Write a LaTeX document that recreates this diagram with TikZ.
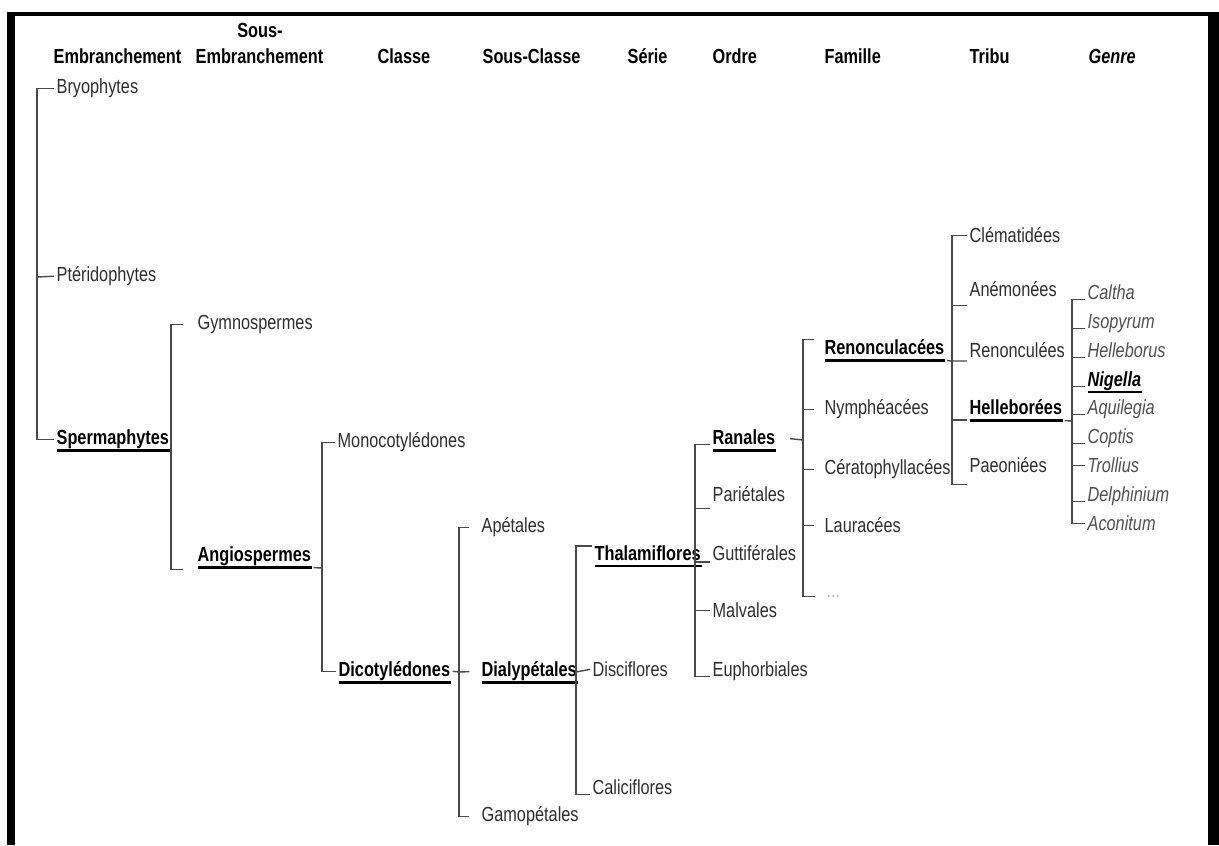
\documentclass[tikz,border=0pt]{standalone}
\usepackage{fontspec}
\setmainfont{Liberation Sans}[FakeStretch=0.8]
\definecolor{txt}{HTML}{2E2E2E}
\definecolor{lnk}{HTML}{4A4A4A}
\definecolor{gen}{HTML}{505050}
\newcommand{\sz}{\fontsize{11.6}{13}\selectfont}

\begin{document}
\begin{tikzpicture}[x=0.02cm, y=-0.02cm,
    taxon/.style={anchor=mid west, inner xsep=1.5pt, inner ysep=0pt, outer sep=0pt, text=txt, font=\sz},
    key taxon/.style={taxon, text=black, font=\sz\bfseries},
    head/.style={key taxon},
    genus/.style={taxon, text=gen, font=\sz\itshape},
    link/.style={draw=lnk, line width=0.8pt},
    ul/.style={draw=black, line width=1.3pt, shorten <=1.5pt, shorten >=1pt}]

    \useasboundingbox (0,0) rectangle (1219,845);
    \fill[black] (7,12) rectangle (15,845);
    \fill[black] (7,12) rectangle (1219,16);
    \fill[black] (1208,12) rectangle (1219,845);

    \node[head] at (51,59) (hemb) {Embranchement};
    \node[head, anchor=mid] at (260,33) (hsous) {Sous-};
    \node[head] at (193,59) (hsemb) {Embranchement};
    \node[head] at (375,59) (hcla) {Classe};
    \node[head] at (480,59) (hscl) {Sous-Classe};
    \node[head] at (625,59) (hser) {Série};
    \node[head] at (710,59) (hord) {Ordre};
    \node[head] at (822,59) (hfam) {Famille};
    \node[head] at (967,59) (htri) {Tribu};
    \node[head] at (1086,59) (hgen) {\textit{Genre}};

    \node[taxon] at (54,89) (bry) {Bryophytes};
    \node[taxon] at (54,277) (pter) {Ptéridophytes};
    \node[key taxon] at (54,440) (sperm) {Spermaphytes};

    \node[taxon] at (195,325) (gym) {Gymnospermes};
    \node[key taxon] at (195,557) (angio) {Angiospermes};

    \node[taxon] at (335,443) (mono) {Monocotylédones};
    \node[key taxon] at (336,672) (dicot) {Dicotylédones};

    \node[taxon] at (479,528) (apet) {Apétales};
    \node[key taxon] at (479,672) (dialy) {Dialypétales};
    \node[taxon] at (479,817) (gamo) {Gamopétales};

    \node[key taxon] at (592,556) (thal) {Thalamiflores};
    \node[taxon] at (590,672) (disc) {Disciflores};
    \node[taxon] at (590,790) (cali) {Caliciflores};

    \node[key taxon] at (710,440) (ran) {Ranales};
    \node[taxon] at (710,497) (pari) {Pariétales};
    \node[taxon] at (710,556) (gutt) {Guttiférales};
    \node[taxon] at (710,613) (malv) {Malvales};
    \node[taxon] at (710,672) (euph) {Euphorbiales};

    \node[key taxon] at (822,350) (renc) {Renonculacées};
    \node[taxon] at (822,410) (nymph) {Nymphéacées};
    \node[taxon] at (822,470) (cera) {Cératophyllacées};
    \node[taxon] at (822,528) (laur) {Lauracées};
    \node[taxon, text=gray!55] at (824,593) (more) {...};

    \node[taxon] at (967,238) (clem) {Clématidées};
    \node[taxon] at (967,292) (anem) {Anémonées};
    \node[taxon] at (967,353) (renu) {Renonculées};
    \node[key taxon] at (967,410) (hell) {Helleborées};
    \node[taxon] at (967,468) (paeo) {Paeoniées};

    \node[genus] at (1085,295) (calt) {Caltha};
    \node[genus] at (1085,324) (isop) {Isopyrum};
    \node[genus] at (1085,353) (hlbs) {Helleborus};
    \node[genus, text=black, font=\sz\bfseries\itshape] at (1085,382) (nig) {Nigella};
    \node[genus] at (1085,410) (aqui) {Aquilegia};
    \node[genus] at (1085,439) (copt) {Coptis};
    \node[genus] at (1085,468) (troll) {Trollius};
    \node[genus] at (1085,497) (delph) {Delphinium};
    \node[genus] at (1085,526) (acon) {Aconitum};

    \draw[ul] ([yshift=-3.4pt]sperm.base west) -- ([yshift=-3.4pt]sperm.base east);
    \draw[ul] ([yshift=-3.4pt]angio.base west) -- ([yshift=-3.4pt]angio.base east);
    \draw[ul] ([yshift=-3.4pt]dicot.base west) -- ([yshift=-3.4pt]dicot.base east);
    \draw[ul] ([yshift=-3.4pt]dialy.base west) -- ([yshift=-3.4pt]dialy.base east);
    \draw[ul] ([yshift=-3pt]thal.base west) -- ([yshift=-3pt]thal.base east);
    \draw[ul] ([yshift=-3.4pt]ran.base west) -- ([yshift=-3.4pt]ran.base east);
    \draw[ul] ([yshift=-3.4pt]renc.base west) -- ([yshift=-3.4pt]renc.base east);
    \draw[ul] ([yshift=-3.4pt]hell.base west) -- ([yshift=-3.4pt]hell.base east);
    \draw[ul] ([yshift=-3pt]nig.base west) -- ([yshift=-3pt]nig.base east);

    \coordinate (eb) at (37,277);
    \coordinate (sb) at (171,451);
    \coordinate (ab) at (322,568);
    \coordinate (cb) at (459,672);
    \coordinate (srb) at (576,672);
    \coordinate (ob) at (695,562);
    \coordinate (fb) at (803,440);
    \coordinate (tb) at (952,361);
    \coordinate (gb) at (1072,421);

    \draw[link] (bry.west) -| (eb) |- (sperm.west);
    \draw[link] (pter.west) -- (eb);

    \draw[link, shorten <=7pt, shorten >=7pt] (gym.west) -| (sb) |- ([yshift=-4.5pt]angio.base west);
    \draw[link] ([yshift=-3.4pt]sperm.base east) -- (sb);

    \draw[link] (mono.west) -| (ab) |- (dicot.west);
    \draw[link] ([yshift=-3.4pt]angio.base east) -- (ab);

    \draw[link, shorten <=5.5pt, shorten >=5.5pt] (apet.west) -| (cb) |- (gamo.west);
    \draw[link, shorten >=5.5pt] (dicot.east) -- (cb) -- (dialy.west);

    \draw[link] (thal.north west) -| (srb) |- (cali.base west);
    \draw[link] (dialy.east) -- (srb) -- (disc.west);

    \draw[link] (ran.base west) -| (ob) |- (euph.base west);
    \draw[link] ([yshift=-4pt]pari.base west) -- ([yshift=-4pt]pari.base west -| ob);
    \draw[link] (ob) -- (ob -| gutt.west);
    \draw[link] (malv.west) -- (malv.west -| ob);

    \draw[link, shorten <=4.5pt, shorten >=5pt] (renc.north west) -| (fb) |- (more.west);
    \draw[link, shorten <=7pt] (ran.east) -- (fb);
    \draw[link, shorten <=4.5pt] (nymph.west) -- (nymph.west -| fb);
    \draw[link, shorten <=4.5pt] (cera.west) -- (cera.west -| fb);
    \draw[link, shorten <=4.5pt] (laur.west) -- (laur.west -| fb);

    \draw[link] (clem.west) -| (tb) |- ([yshift=-6.8pt]paeo.base west);
    \draw[link] ([yshift=-3.4pt]renc.base east) -- (tb) -- (tb -| renu.west);
    \draw[link] ([yshift=-5pt]anem.base west) -- ([yshift=-5pt]anem.base west -| tb);
    \draw[link] ([yshift=-3pt]hell.base west) -- ([yshift=-3pt]hell.base west -| tb);

    \draw[link] (calt.base west) -| (gb) |- (acon.west);
    \draw[link] ([yshift=-3.4pt]hell.base east) -- (gb);
    \draw[link] (isop.base west) -- (isop.base west -| gb);
    \draw[link] (hlbs.base west) -- (hlbs.base west -| gb);
    \draw[link] (nig.base west) -- (nig.base west -| gb);
    \draw[link] (aqui.base west) -- (aqui.base west -| gb);
    \draw[link] (copt.base west) -- (copt.base west -| gb);
    \draw[link] (troll.west) -- (troll.west -| gb);
    \draw[link] (delph.base west) -- (delph.base west -| gb);
\end{tikzpicture}
\end{document}
